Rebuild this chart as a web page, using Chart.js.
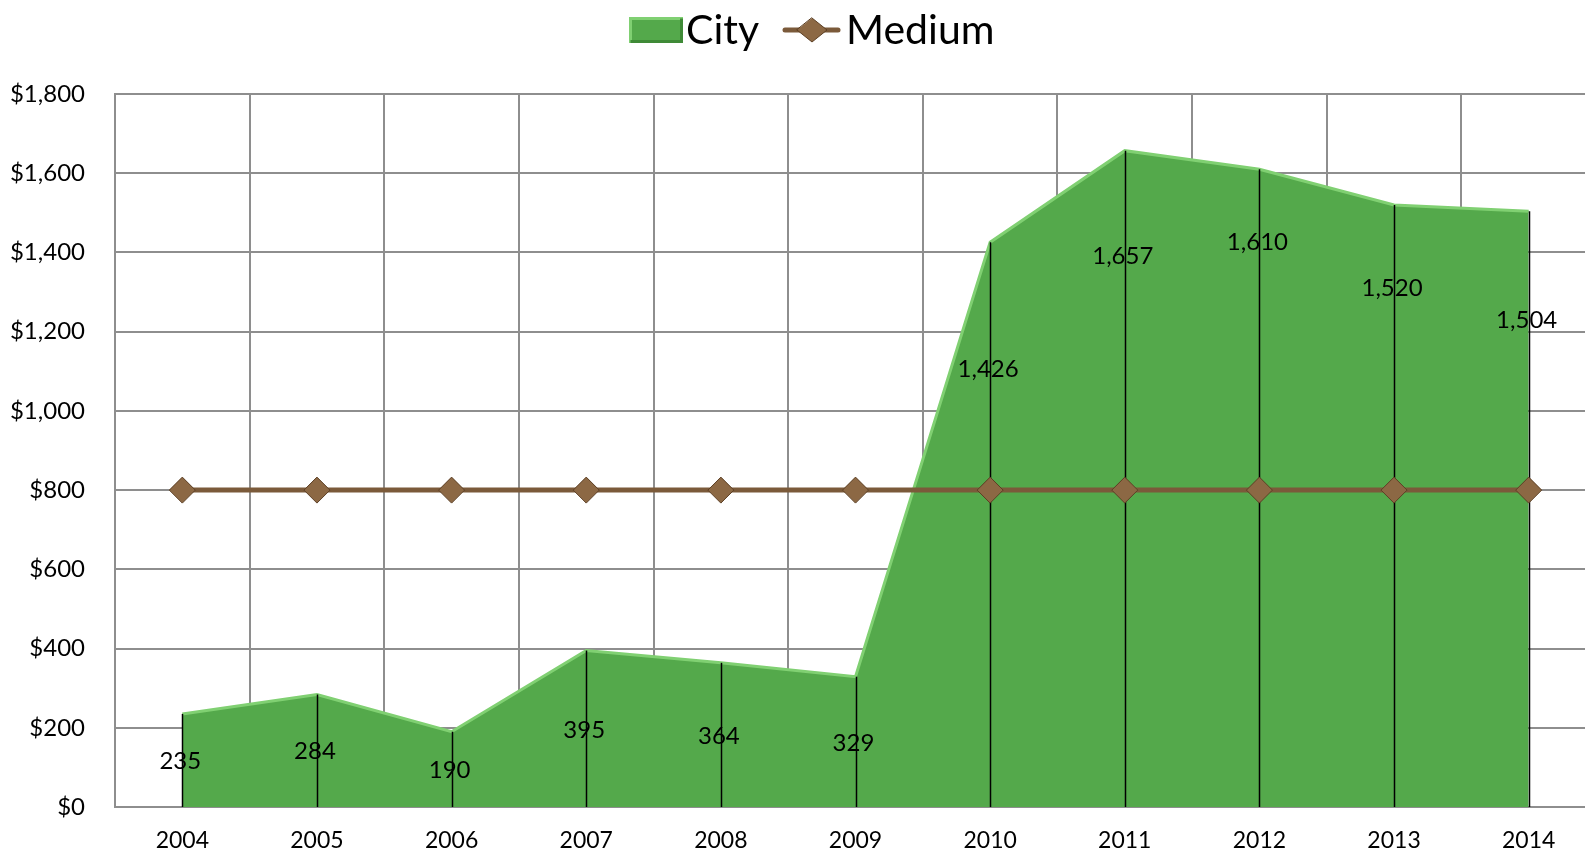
<!DOCTYPE html>
<html>
<head>
<meta charset="utf-8">
<script src="https://cdn.jsdelivr.net/npm/chart.js@4.4.1/dist/chart.umd.min.js"></script>
<style>
  html, body { margin: 0; padding: 0; background: #fff; overflow: hidden; }
  canvas { display: block; }
</style>
</head>
<body>
<canvas id="chart" width="1601" height="854"></canvas>
<script>
// ---------- data ----------
const years = ["2004", "2005", "2006", "2007", "2008", "2009", "2010", "2011", "2012", "2013", "2014"];
const city = [235, 284, 190, 395, 364, 329, 1426, 1657, 1610, 1520, 1504];
const medium = [800, 800, 800, 800, 800, 800, 800, 800, 800, 800, 800];
// where Excel happened to put each City label (value units)
const cityLabelAt = [116, 141, 93, 194, 179, 162, 1106, 1391, 1426, 1310, 1229];

const FONT = "Lato, 'DejaVu Sans', sans-serif";
const GREEN = "#54a94b";
const GREEN_EDGE = "#80d072";
const BROWN = "#7b5a3a";
const GRID = "#8e8e8e";

// drop lines from each City point down to the axis
const dropLines = {
  id: "dropLines",
  afterDatasetDraw(chart, args) {
    if (args.index !== 0) return;
    const ctx = chart.ctx;
    const y0 = chart.scales.y.getPixelForValue(0);
    ctx.save();
    ctx.strokeStyle = "#000";
    ctx.lineWidth = 1.5;
    args.meta.data.forEach(pt => {
      ctx.beginPath();
      ctx.moveTo(Math.round(pt.x) + 0.5, pt.y);
      ctx.lineTo(Math.round(pt.x) + 0.5, y0);
      ctx.stroke();
    });
    ctx.restore();
  }
};

// value labels for City
const cityLabels = {
  id: "cityLabels",
  afterDatasetsDraw(chart) {
    const ctx = chart.ctx;
    const meta = chart.getDatasetMeta(0);
    ctx.save();
    ctx.fillStyle = "#000";
    ctx.font = "24px " + FONT;
    ctx.textAlign = "center";
    ctx.textBaseline = "middle";
    meta.data.forEach((pt, i) => {
      const y = chart.scales.y.getPixelForValue(cityLabelAt[i]);
      ctx.fillText(city[i].toLocaleString("en-US"), pt.x - 2, y);
    });
    ctx.restore();
  }
};

// legend drawn at the top, Excel style
const topLegend = {
  id: "topLegend",
  afterDraw(chart) {
    const ctx = chart.ctx;
    const cy = 30;
    ctx.save();
    ctx.font = "41px " + FONT;
    ctx.textBaseline = "middle";

    // City swatch
    const bx = 629, by = 17, bw = 54, bh = 26;
    ctx.fillStyle = GREEN;
    ctx.fillRect(bx, by, bw, bh);
    ctx.strokeStyle = GREEN_EDGE;
    ctx.lineWidth = 3;
    ctx.beginPath();
    ctx.moveTo(bx + 1.5, by + bh);
    ctx.lineTo(bx + 1.5, by + 1.5);
    ctx.lineTo(bx + bw, by + 1.5);
    ctx.stroke();
    ctx.strokeStyle = "#3f8a37";
    ctx.beginPath();
    ctx.moveTo(bx + bw - 1.5, by + 1.5);
    ctx.lineTo(bx + bw - 1.5, by + bh - 1.5);
    ctx.lineTo(bx + 1.5, by + bh - 1.5);
    ctx.stroke();
    ctx.fillStyle = "#000";
    ctx.fillText("City", 686, cy + 1);

    // Medium swatch
    ctx.strokeStyle = BROWN;
    ctx.lineWidth = 5;
    ctx.lineCap = "round";
    ctx.beginPath();
    ctx.moveTo(785, cy);
    ctx.lineTo(838, cy);
    ctx.stroke();
    ctx.fillStyle = "#8c6844";
    ctx.strokeStyle = "#5c3f24";
    ctx.lineWidth = 1;
    ctx.beginPath();
    ctx.moveTo(812, cy - 12);
    ctx.lineTo(827, cy);
    ctx.lineTo(812, cy + 12);
    ctx.lineTo(797, cy);
    ctx.closePath();
    ctx.fill();
    ctx.stroke();
    ctx.fillStyle = "#000";
    ctx.fillText("Medium", 846, cy + 1);
    ctx.restore();
  }
};

new Chart(document.getElementById("chart"), {
  type: "line",
  data: {
    labels: years,
    datasets: [
      {
        label: "City",
        data: city,
        fill: "origin",
        backgroundColor: GREEN,
        borderColor: GREEN_EDGE,
        borderWidth: 3,
        pointRadius: 0,
        tension: 0,
        order: 2
      },
      {
        label: "Medium",
        data: medium,
        fill: false,
        borderColor: BROWN,
        borderWidth: 5,
        pointStyle: "rectRot",
        pointRadius: 13,
        pointBackgroundColor: "#8c6844",
        pointBorderColor: "#5c3f24",
        pointBorderWidth: 1,
        tension: 0,
        order: 1
      }
    ]
  },
  options: {
    responsive: false,
    animation: false,
    layout: { autoPadding: false, padding: { top: 94, right: 5, left: 0, bottom: 0 } },
    plugins: {
      legend: { display: false },
      tooltip: { enabled: false }
    },
    scales: {
      x: {
        offset: true,
        grid: { offset: true, color: GRID, lineWidth: 2, drawTicks: false },
        border: { color: GRID, width: 2 },
        ticks: { color: "#000", font: { family: FONT, size: 23 }, padding: 20, maxRotation: 0 },
        afterFit(scale) {
          scale.height = 47;
          scale.paddingLeft = 0;
          scale.paddingRight = 0;
        }
      },
      y: {
        min: 0,
        max: 1800,
        grid: { color: GRID, lineWidth: 2, drawTicks: false },
        border: { color: GRID, width: 2 },
        ticks: {
          stepSize: 200,
          color: "#000",
          font: { family: FONT, size: 24 },
          padding: 30,
          callback: v => "$" + v.toLocaleString("en-US")
        },
        afterFit(scale) { scale.width = 115; }
      }
    }
  },
  plugins: [dropLines, cityLabels, topLegend]
});
</script>
</body>
</html>
